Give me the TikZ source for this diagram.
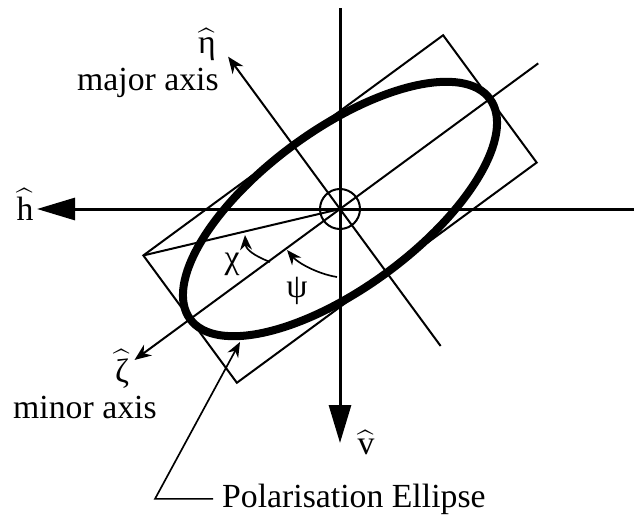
\documentclass[tikz,border=0pt]{standalone}
\usepackage{amsmath}
\usepackage{fontspec}
\setmainfont{Liberation Serif}
\usetikzlibrary{arrows.meta,positioning,calc}

\begin{document}
\begin{tikzpicture}[x=0.3mm, y=-0.3mm, font=\fontsize{28.8}{30}\selectfont,
  thinline/.style={line width=0.6mm, draw=black},
  axisline/.style={line width=0.9mm, draw=black, -{Triangle[length=11.4mm, width=6.6mm]}},
  axisarrow/.style={line width=0.6mm, draw=black, -{Stealth[length=5mm, width=4mm]}},
  pointer/.style={line width=0.5mm, draw=black, -{Stealth[length=4.5mm, width=3.6mm]}},
  ellipseline/.style={line width=2.4mm, draw=black},
  lbl/.style={inner sep=0pt, anchor=base}]
\useasboundingbox (0,0) rectangle (635,516);
\coordinate (O) at (340,209);
% fixed h-v frame
\coordinate (vtop) at (340,8);
\coordinate (vtip) at (340,443);
\coordinate (hright) at (634,209);
\coordinate (htip) at (37,209);
\draw[axisline] (vtop) -- (vtip);
\draw[axisline] (hright) -- (htip);
\node[lbl] (hhat) at (25,220) {$\widehat{\text{h}}$};
\node[lbl] (vhat) at (366,454) {$\widehat{\text{v}}$};
% frame of the ellipse
\begin{scope}[shift={(O)}, rotate=36.3]
  \coordinate (etatip) at (0,-189);
  \coordinate (etaend) at (0,170);
  \coordinate (zetaend) at (246,0);
  \coordinate (zetatip) at (-255,0);
  \coordinate (corner) at (-186,-79);
  \draw[thinline] (-186,-79) -- (186,-79) -- (186,79) -- (-186,79) -- cycle;
  \draw[ellipseline] (0,0) ellipse [x radius=186, y radius=79];
\end{scope}
\draw[axisarrow] (etaend) -- (etatip);
\draw[axisarrow] (zetaend) -- (zetatip);
\draw[thinline] (O) -- (corner);
\draw[thinline] (O) circle (20);
% labels
\node[lbl] (etahat) at (207,53) {$\widehat{\text{η}}$};
\node[lbl, anchor=base west] (major) at (77,90) {major axis};
\node[lbl] (zetahat) at (122,382) {$\widehat{\text{ζ}}$};
\node[lbl, anchor=base west] (minor) at (13,418) {minor axis};
\node[lbl] (chi) at (232,268) {χ};
\node[lbl] (psi) at (297,297) {ψ};
\node[lbl, anchor=base west, inner xsep=2.7mm] (pol) at (213,507) {Polarisation Ellipse};
% angle pointers
\coordinate (chistart) at (270,262);
\coordinate (chitip) at (245,235);
\draw[pointer] (chistart) .. controls (255,256) and (246,250) .. (chitip);
\coordinate (psistart) at (337,277);
\coordinate (psitip) at (287,250);
\draw[pointer] (psistart) .. controls (318,274) and (298,263) .. (psitip);
\coordinate (polbend) at (155,497);
\coordinate (poltip) at (240,342);
\draw[pointer] (pol.west) -- (pol.west -| polbend) -- (poltip);
\end{tikzpicture}
\end{document}
